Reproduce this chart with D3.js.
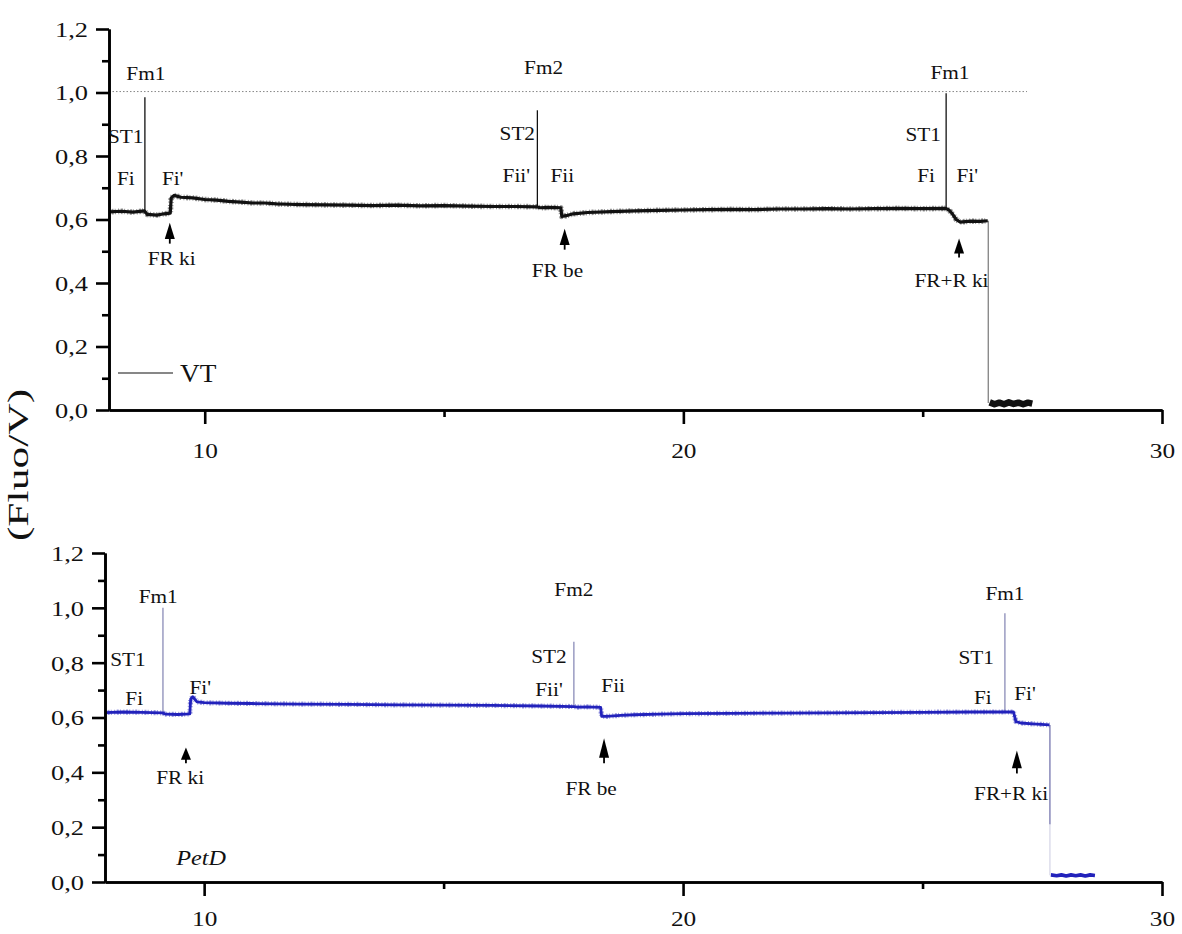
<!DOCTYPE html>
<html>
<head>
<meta charset="utf-8">
<script src="https://cdn.jsdelivr.net/npm/d3@7"></script>
<style>
  html, body { margin: 0; padding: 0; background: #fff; }
  svg, svg text { font-family: "Liberation Serif", "Times New Roman", Times, Tinos, serif !important; }
</style>
</head>
<body>
<svg id="chart" width="1182" height="934"></svg>
<script>
// ---------------- DATA ----------------
const yMajorTicks = [0, 0.2, 0.4, 0.6, 0.8, 1.0, 1.2];
const yMinorTicks = [0.1, 0.3, 0.5, 0.7, 0.9, 1.1];
const xMajorTicks = [10, 20, 30];
const xMinorTicks = [15, 25];

// VT (top) trace: [time, fluo]
const vtTrace = [
  [8.00,0.624],[8.25,0.626],[8.50,0.623],[8.74,0.627],[8.80,0.616],[9.00,0.614],[9.15,0.618],[9.28,0.620],
  [9.30,0.668],[9.36,0.676],[9.50,0.670],[9.75,0.668],[10.00,0.663],[10.25,0.661],[10.50,0.657],[10.75,0.655],
  [11.00,0.652],[11.25,0.652],[11.50,0.649],[11.75,0.648],[12.00,0.647],[12.50,0.646],[13.00,0.645],[13.50,0.644],
  [14.00,0.645],[14.50,0.643],[15.00,0.644],[15.50,0.642],[16.00,0.641],[16.50,0.641],[16.94,0.640],[17.00,0.637],
  [17.20,0.638],[17.44,0.637],[17.46,0.610],[17.55,0.612],[17.70,0.618],[18.00,0.622],[18.50,0.625],[19.00,0.627],
  [19.50,0.629],[20.00,0.630],[20.50,0.631],[21.00,0.632],[21.50,0.631],[22.00,0.633],[22.50,0.633],[23.00,0.634],
  [23.50,0.633],[24.00,0.634],[24.50,0.635],[25.00,0.634],[25.48,0.635],[25.55,0.630],[25.62,0.618],[25.70,0.600],
  [25.78,0.592],[26.00,0.595],[26.20,0.594],[26.36,0.596]
];
const vtTail = [
  [26.40,0.024],[26.50,0.018],[26.60,0.023],[26.70,0.018],[26.80,0.024],[26.90,0.019],[27.00,0.023],[27.10,0.018],[27.20,0.023],[27.29,0.020]
];
// spikes: [time, base, peak]
const vtSpikes = [[8.75,0.625,0.985],[16.95,0.640,0.944],[25.49,0.635,0.998]];
// final drop: [time, from, to]
const vtDrop = [26.37, 0.596, 0.022];
const vtRefLine = [[8.0, 1.003],[27.18, 1.003]];

// PetD (bottom) trace
const petdTrace = [
  [7.93,0.618],[8.30,0.620],[8.70,0.619],[9.13,0.617],[9.20,0.612],[9.45,0.611],[9.70,0.613],[9.72,0.668],
  [9.76,0.676],[9.85,0.657],[10.00,0.654],[10.50,0.652],[11.00,0.651],[11.50,0.650],[12.00,0.649],[13.00,0.648],
  [14.00,0.646],[15.00,0.645],[16.00,0.644],[17.00,0.642],[17.71,0.640],[17.80,0.638],[18.00,0.639],[18.28,0.637],
  [18.30,0.604],[18.40,0.604],[18.70,0.608],[19.00,0.610],[19.50,0.612],[20.00,0.614],[21.00,0.615],[22.00,0.616],
  [23.00,0.617],[24.00,0.618],[25.00,0.619],[26.00,0.620],[26.50,0.620],[26.90,0.620],[26.95,0.585],[27.05,0.580],
  [27.30,0.577],[27.65,0.573]
];
const petdTail = [
  [27.68,0.026],[27.80,0.023],[27.90,0.026],[28.00,0.022],[28.10,0.026],[28.20,0.023],[28.30,0.026],[28.40,0.022],[28.50,0.026],[28.60,0.024]
];
const petdSpikes = [[9.14,0.617,1.0],[17.72,0.640,0.876],[26.72,0.620,0.98]];
const petdDrop = [27.66, 0.573, 0.21, 0.025];

// annotations: [text, time, fluo]
const vtLabels = [
  ["Fm1",8.77,1.061],["ST1",8.35,0.862],["Fi",8.35,0.729],["Fi'",9.33,0.729],["FR ki",9.31,0.477],
  ["Fm2",17.08,1.080],["ST2",16.53,0.871],["Fii'",16.51,0.739],["Fii",17.47,0.739],["FR be",17.37,0.439],
  ["Fm1",25.57,1.064],["ST1",25.01,0.868],["Fi",25.07,0.739],["Fi'",25.93,0.739],["FR+R ki",25.60,0.407]
];
// arrows: [time, tip, base]
const vtArrows = [[9.27,0.590,0.524],[17.52,0.571,0.505],[25.76,0.540,0.480]];

const petdLabels = [
  ["Fm1",9.04,1.040],["ST1",8.41,0.811],["Fi",8.54,0.669],["Fi'",9.92,0.709],["FR ki",9.50,0.382],
  ["Fm2",17.72,1.069],["ST2",17.20,0.822],["Fii'",17.20,0.702],["Fii",18.54,0.716],["FR be",18.08,0.342],
  ["Fm1",26.72,1.051],["ST1",26.12,0.818],["Fi",26.26,0.673],["Fi'",27.14,0.687],["FR+R ki",26.85,0.324]
];
const petdArrows = [[9.62,0.491,0.433],[18.35,0.524,0.433],[26.97,0.480,0.396]];

// ---------------- DRAW ----------------
const svg = d3.select("#chart");
const fmt = d => d.toFixed(1).replace(".", ",");

function txt(g, x, y, s, size, sx, opts = {}) {
  const t = g.append("text")
    .attr("transform", `translate(${x},${y}) scale(${sx},1)`)
    .attr("text-anchor", opts.anchor || "middle")
    .attr("dominant-baseline", "central")
    .attr("font-size", size)
    .attr("fill", "#111")
    .text(s);
  if (opts.italic) t.attr("font-style", "italic");
  return t;
}

function panel(cfg) {
  const x = d3.scaleLinear().domain(cfg.xDomain).range(cfg.xRange);
  const y = d3.scaleLinear().domain([0, 1.2]).range(cfg.yRange);
  const g = svg.append("g");
  const line = d3.line().x(d => x(d[0])).y(d => y(d[1]));

  if (cfg.refLine) {
    g.append("path").attr("d", line(cfg.refLine))
      .attr("fill", "none").attr("stroke", "#888").attr("stroke-width", 1)
      .attr("stroke-dasharray", "1.5,2");
  }

  g.selectAll(".spike").data(cfg.spikes).enter().append("line")
    .attr("x1", d => x(d[0])).attr("x2", d => x(d[0]))
    .attr("y1", d => y(d[1])).attr("y2", d => y(d[2]))
    .attr("stroke", cfg.spikeColor).attr("stroke-width", 1.3);

  const dr = cfg.drop;
  if (dr.length === 3) {
    g.append("line").attr("x1", x(dr[0])).attr("x2", x(dr[0]))
      .attr("y1", y(dr[1])).attr("y2", y(dr[2]))
      .attr("stroke", "#777").attr("stroke-width", 1.2);
  } else {
    g.append("line").attr("x1", x(dr[0])).attr("x2", x(dr[0]))
      .attr("y1", y(dr[1])).attr("y2", y(dr[2]))
      .attr("stroke", "#6a6aa8").attr("stroke-width", 1.2);
    g.append("line").attr("x1", x(dr[0])).attr("x2", x(dr[0]))
      .attr("y1", y(dr[2])).attr("y2", y(dr[3]))
      .attr("stroke", "#d4d4e6").attr("stroke-width", 1.2);
  }

  // fuzzy underlay to suggest measurement noise band
  g.append("path").attr("d", line(cfg.trace))
    .attr("fill", "none").attr("stroke", cfg.color).attr("stroke-width", cfg.traceWidth + 2.4)
    .attr("stroke-opacity", 0.45).attr("stroke-dasharray", "1,1.6,2,1.2,1,2.4")
    .attr("stroke-linejoin", "round");
  g.append("path").attr("d", line(cfg.trace))
    .attr("fill", "none").attr("stroke", cfg.color).attr("stroke-width", cfg.traceWidth)
    .attr("stroke-linejoin", "round");
  g.append("path").attr("d", line(cfg.tail))
    .attr("fill", "none").attr("stroke", cfg.color).attr("stroke-width", cfg.tailWidth)
    .attr("stroke-linejoin", "round");

  const ax = g.append("g").attr("class", "axes");
  const yAxisMajor = d3.axisLeft(y).tickValues(yMajorTicks).tickFormat(fmt).tickSize(13).tickSizeOuter(0).tickPadding(8);
  const yAxisMinor = d3.axisLeft(y).tickValues(yMinorTicks).tickFormat("").tickSize(7).tickSizeOuter(0);
  const xAxisMajor = d3.axisBottom(x).tickValues(xMajorTicks).tickFormat(d3.format("d")).tickSize(14).tickSizeOuter(0).tickPadding(cfg.xPad);
  const xAxisMinor = d3.axisBottom(x).tickValues(xMinorTicks).tickFormat("").tickSize(7).tickSizeOuter(0);

  const gy = ax.append("g").attr("transform", `translate(${cfg.xRange[0]},0)`).call(yAxisMajor);
  ax.append("g").attr("transform", `translate(${cfg.xRange[0]},0)`).call(yAxisMinor);
  const gx = ax.append("g").attr("transform", `translate(0,${cfg.yRange[0]})`).call(xAxisMajor);
  ax.append("g").attr("transform", `translate(0,${cfg.yRange[0]})`).call(xAxisMinor);
  ax.selectAll("g").attr("font-family", null);

  ax.selectAll(".domain").attr("stroke", "#000").attr("stroke-width", 2.6);
  ax.selectAll(".tick line").attr("stroke", "#000").attr("stroke-width", 2.6);
  gy.selectAll(".tick text").each(function() {
    d3.select(this).attr("font-size", 22).attr("fill", "#111")
      .attr("dy", "0.34em").attr("x", null)
      .attr("transform", `translate(-21,0) scale(1.2,1)`);
  });
  gx.selectAll(".tick text").attr("font-size", 22).attr("fill", "#111")
    .attr("transform", "scale(1.15,1)");

  cfg.labels.forEach(l => txt(g, x(l[1]), y(l[2]), l[0], 19, 1.12));

  cfg.arrows.forEach(a => {
    const ax0 = x(a[0]), yt = y(a[1]), yb = y(a[2]);
    const th = (yb - yt) * 0.78;
    g.append("path")
      .attr("d", `M${ax0},${yt} L${ax0 - 5},${yt + th} L${ax0 + 5},${yt + th} Z`)
      .attr("fill", "#000");
    g.append("line").attr("x1", ax0).attr("x2", ax0).attr("y1", yt + th - 1).attr("y2", yb)
      .attr("stroke", "#000").attr("stroke-width", 1.8);
  });
  return { g, x, y };
}

const topPanel = panel({
  xDomain: [8, 30], xRange: [109, 1162], yRange: [410, 29],
  trace: vtTrace, tail: vtTail, spikes: vtSpikes, drop: vtDrop, refLine: vtRefLine,
  color: "#111", spikeColor: "#111", traceWidth: 3.2, tailWidth: 6.5,
  labels: vtLabels, arrows: vtArrows, xPad: 18
});
const botPanel = panel({
  xDomain: [7.93, 30], xRange: [105, 1162], yRange: [882, 553],
  trace: petdTrace, tail: petdTail, spikes: petdSpikes, drop: petdDrop, refLine: null,
  color: "#2222bb", spikeColor: "#8a8cb8", traceWidth: 2.8, tailWidth: 3.6,
  labels: petdLabels, arrows: petdArrows, xPad: 14
});

topPanel.g.append("line").attr("x1", 118).attr("x2", 173).attr("y1", 373).attr("y2", 373)
  .attr("stroke", "#111").attr("stroke-width", 1.2);
txt(topPanel.g, 180, 373, "VT", 26, 1.05, { anchor: "start" });
txt(botPanel.g, 201, 857, "PetD", 22, 1.1, { italic: true });

svg.append("text")
  .attr("transform", "translate(18,465) rotate(-90) scale(1.45,1)")
  .attr("text-anchor", "middle").attr("dominant-baseline", "central")
  .attr("font-size", 30).attr("fill", "#111")
  .text("(Fluo/V)");
</script>
</body>
</html>
